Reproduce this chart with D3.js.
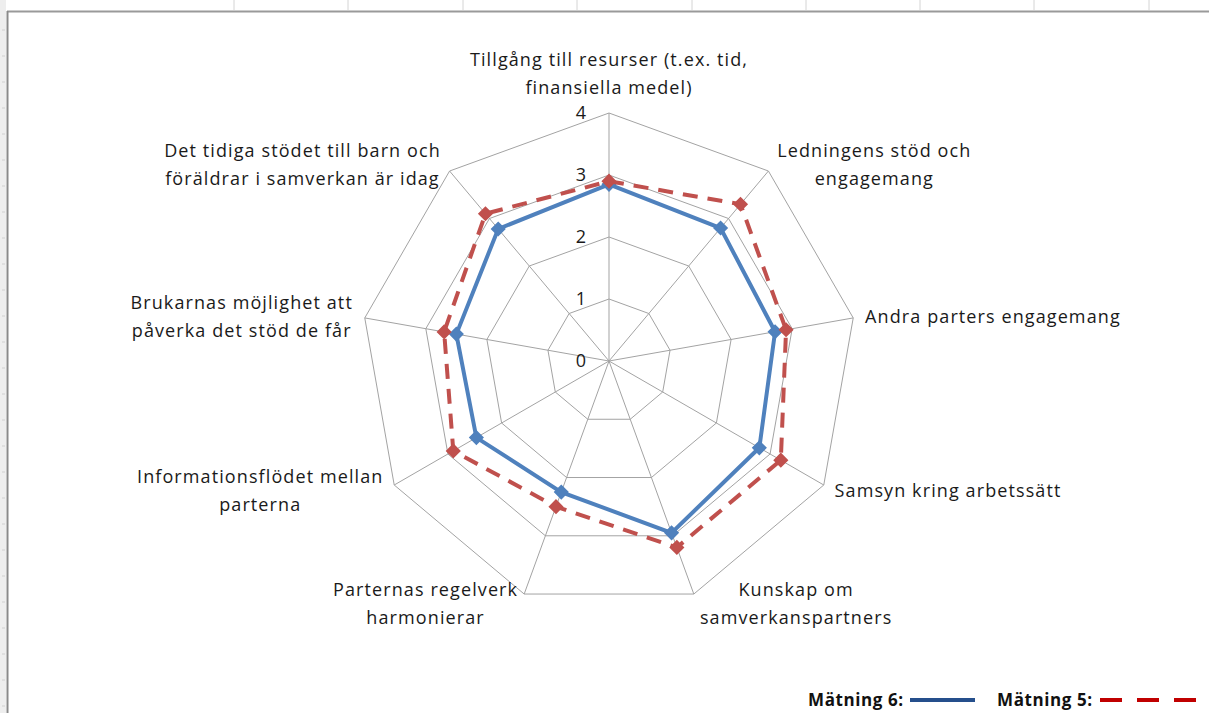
<!DOCTYPE html>
<html>
<head>
<meta charset="utf-8">
<title>Radar</title>
<script src="https://cdn.jsdelivr.net/npm/d3@7"></script>
<style>
  body { margin: 0; background: #fff; }
  svg { display: block; }
  .grid { fill: none; stroke: #a3a3a3; stroke-width: 1px; }
  .axis-label { font-family: "Open Sans", sans-serif; font-size: 18px; letter-spacing: 1.1px; fill: #1a1a1a; }
  .tick-label { font-family: "Open Sans", sans-serif; font-size: 18px; fill: #1a1a1a; }
  .legend { font-family: "Open Sans", sans-serif; font-size: 17px; letter-spacing: 0.6px; font-weight: bold; fill: #111; }
</style>
</head>
<body>
<svg id="chart" width="1209" height="713"></svg>
<script>
// axis labels (one entry per line)
var axes = [
  ["Tillgång till resurser (t.ex. tid,", "finansiella medel)"],
  ["Ledningens stöd och", "engagemang"],
  ["Andra parters engagemang"],
  ["Samsyn kring arbetssätt"],
  ["Kunskap om", "samverkanspartners"],
  ["Parternas regelverk", "harmonierar"],
  ["Informationsflödet mellan", "parterna"],
  ["Brukarnas möjlighet att", "påverka det stöd de får"],
  ["Det tidiga stödet till barn och", "föräldrar i samverkan är idag"]
];
var matning6 = [2.85, 2.8, 2.72, 2.8, 2.95, 2.25, 2.47, 2.5, 2.78];
var matning5 = [2.9, 3.3, 2.9, 3.2, 3.2, 2.5, 2.9, 2.7, 3.1];
var ticks = [0, 1, 2, 3, 4];
var seriesNames = ["Mätning 6:", "Mätning 5:"];

var svg = d3.select("#chart");
var cx = 609, cy = 361;

// spreadsheet frame around the chart
var frame = svg.append("g");
frame.append("rect").attr("x", 0).attr("y", 0).attr("width", 6).attr("height", 713).attr("fill", "#eeeeee");
d3.range(30, 713, 26).forEach(function(y) {
  frame.append("line").attr("x1", 2).attr("x2", 5).attr("y1", y).attr("y2", y).attr("stroke", "#d0d0d0");
});
[234, 348, 463, 577, 692, 806, 920, 1034, 1149].forEach(function(x) {
  frame.append("line").attr("x1", x).attr("x2", x).attr("y1", 0).attr("y2", 10).attr("stroke", "#d4d4d4");
});
frame.append("line").attr("x1", 7).attr("x2", 1209).attr("y1", 11.5).attr("y2", 11.5).attr("stroke", "#9a9a9a").attr("stroke-width", 2);
frame.append("line").attr("x1", 7.5).attr("x2", 7.5).attr("y1", 11).attr("y2", 713).attr("stroke", "#8a8a8a").attr("stroke-width", 2);

var r = d3.scaleLinear().domain([0, 4]).range([0, 248]);
var angle = d3.scaleLinear().domain([0, axes.length]).range([0, 2 * Math.PI]);

var g = svg.append("g").attr("transform", "translate(" + cx + "," + cy + ")");

function pt(i, v) {
  var a = angle(i);
  return [r(v) * Math.sin(a), -r(v) * Math.cos(a)];
}

// rings
ticks.slice(1).forEach(function(t) {
  g.append("path").attr("class", "grid")
    .attr("d", d3.line().curve(d3.curveLinearClosed)(axes.map(function(d, i) { return pt(i, t); })));
});
// spokes
axes.forEach(function(d, i) {
  var p = pt(i, 4);
  g.append("line").attr("class", "grid").attr("x1", 0).attr("y1", 0).attr("x2", p[0]).attr("y2", p[1]);
});

// tick labels
g.selectAll(".tick-label").data(ticks).enter().append("text")
  .attr("class", "tick-label")
  .attr("x", -23).attr("y", function(d) { return -r(d); })
  .attr("dy", "0.35em").attr("text-anchor", "end")
  .text(function(d) { return d; });

// series
var radial = d3.lineRadial()
  .angle(function(d, i) { return angle(i); })
  .radius(function(d) { return r(d); })
  .curve(d3.curveLinearClosed);

function drawSeries(values, color, dash) {
  g.append("path").attr("d", radial(values))
    .attr("fill", "none").attr("stroke", color).attr("stroke-width", 4)
    .attr("stroke-dasharray", dash).attr("stroke-linejoin", "miter");
  g.selectAll(null).data(values).enter().append("path")
    .attr("d", d3.symbol().type(d3.symbolSquare).size(85))
    .attr("transform", function(d, i) { var p = pt(i, d); return "translate(" + p[0] + "," + p[1] + ") rotate(45)"; })
    .attr("fill", color).attr("stroke", color).attr("stroke-width", 1.5);
}
drawSeries(matning6, "#4f81bd", null);
drawSeries(matning5, "#c0504d", "15,10");

// axis labels
var lineH = 28;
axes.forEach(function(lines, i) {
  var a = angle(i), s = Math.sin(a), c = Math.cos(a);
  var v = pt(i, 4);
  var lab = g.append("g");
  var t = lab.append("text").attr("class", "axis-label").attr("text-anchor", "middle");
  lines.forEach(function(l, k) {
    t.append("tspan").attr("x", 0).attr("y", k * lineH).text(l);
  });
  var bb = t.node().getBBox();
  var x, y;
  if (Math.abs(s) < 0.1) {
    x = v[0] - (bb.x + bb.width / 2);
    y = v[1] - 14 - (bb.y + bb.height);
  } else {
    var off = 3 + 9 * Math.abs(s);
    if (s > 0) x = v[0] + off - bb.x;
    else x = v[0] - off - (bb.x + bb.width);
    y = v[1] - 9 * c - (bb.y + bb.height / 2);
  }
  lab.attr("transform", "translate(" + x + "," + y + ")");
});

// legend
var leg = svg.append("g").attr("transform", "translate(808,706)");
leg.append("text").attr("class", "legend").attr("x", 0).attr("y", 0).text(seriesNames[0]);
leg.append("line").attr("x1", 102).attr("x2", 167).attr("y1", -6).attr("y2", -6)
  .attr("stroke", "#254f8c").attr("stroke-width", 4);
leg.append("text").attr("class", "legend").attr("x", 189).attr("y", 0).text(seriesNames[1]);
leg.append("line").attr("x1", 292).attr("x2", 392).attr("y1", -6).attr("y2", -6)
  .attr("stroke", "#c00000").attr("stroke-width", 4).attr("stroke-dasharray", "22,15");
</script>
</body>
</html>
